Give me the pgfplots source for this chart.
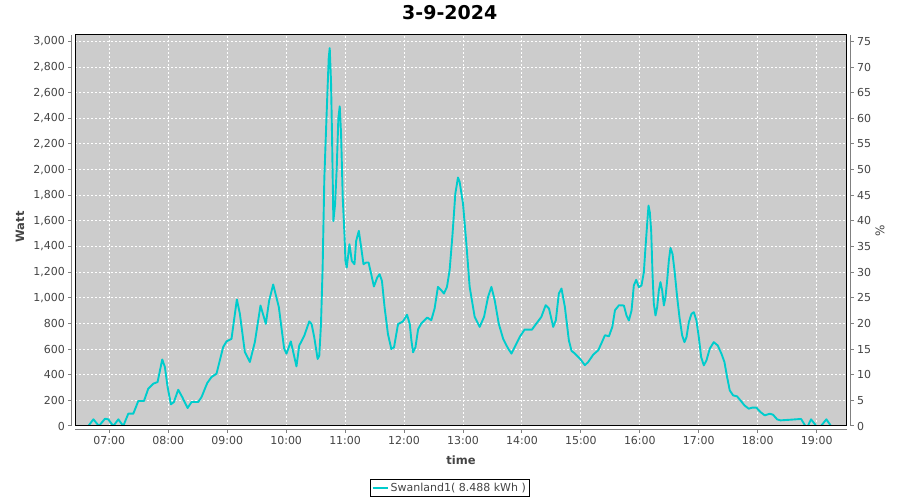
\documentclass[border=0pt]{standalone}
\usepackage{pgfplots}
\pgfplotsset{compat=1.18}
\usepackage{pgfplotstable}
\usepackage{fontspec}
\setmainfont{DejaVu Sans}
\definecolor{plotbg}{RGB}{204,204,204}
\definecolor{series}{RGB}{0,204,204}
\definecolor{ticklab}{RGB}{68,68,68}
\definecolor{axgray}{RGB}{128,128,128}
\pgfplotstableread{
h w
6.644 0
6.730 52
6.825 0
6.927 57
6.983 52
7.068 0
7.153 52
7.237 0
7.322 96
7.407 96
7.492 195
7.588 195
7.661 291
7.746 330
7.819 343
7.898 519
7.943 460
7.989 304
8.045 169
8.096 187
8.169 283
8.237 226
8.328 140
8.395 187
8.508 187
8.565 226
8.661 335
8.734 382
8.819 408
8.932 616
8.989 660
9.073 680
9.164 987
9.215 875
9.299 577
9.384 499
9.469 654
9.565 940
9.655 797
9.712 979
9.780 1104
9.876 927
9.966 603
10.006 564
10.079 660
10.175 465
10.222 627
10.307 704
10.392 816
10.432 795
10.477 691
10.534 523
10.562 549
10.591 795
10.619 1236
10.648 1936
10.676 2300
10.705 2663
10.722 2870
10.739 2948
10.761 2689
10.778 2274
10.801 1599
10.830 1729
10.858 2014
10.886 2403
10.909 2494
10.932 2274
10.960 1781
10.989 1496
11.006 1288
11.028 1236
11.074 1418
11.114 1288
11.159 1262
11.188 1444
11.233 1522
11.273 1392
11.312 1262
11.358 1275
11.398 1275
11.443 1184
11.489 1088
11.545 1158
11.585 1184
11.625 1132
11.670 925
11.727 717
11.784 601
11.830 614
11.898 795
11.983 816
12.051 868
12.097 795
12.125 666
12.153 575
12.193 614
12.239 756
12.292 799
12.394 846
12.462 825
12.518 916
12.575 1085
12.632 1059
12.677 1033
12.728 1085
12.773 1215
12.819 1475
12.870 1813
12.915 1938
12.943 1904
13.000 1735
13.057 1423
13.113 1085
13.198 851
13.283 773
13.357 851
13.425 1007
13.482 1085
13.538 981
13.606 799
13.680 682
13.765 604
13.822 565
13.878 617
13.963 695
14.045 752
14.170 752
14.244 799
14.329 851
14.402 942
14.459 916
14.530 773
14.575 825
14.626 1033
14.671 1072
14.728 929
14.796 668
14.841 586
14.898 565
14.983 526
15.068 474
15.125 500
15.210 557
15.295 591
15.351 648
15.408 708
15.476 700
15.533 773
15.578 903
15.646 942
15.729 940
15.774 862
15.814 823
15.859 901
15.898 1096
15.938 1140
15.983 1083
16.028 1096
16.068 1200
16.096 1395
16.124 1576
16.147 1719
16.169 1667
16.192 1524
16.215 1187
16.237 953
16.266 862
16.294 927
16.322 1057
16.350 1122
16.379 1057
16.407 940
16.435 1005
16.463 1135
16.492 1291
16.520 1389
16.554 1343
16.588 1213
16.633 1005
16.672 849
16.718 706
16.757 654
16.791 693
16.831 810
16.876 875
16.915 888
16.960 823
17.000 693
17.040 538
17.085 473
17.130 512
17.186 603
17.254 654
17.322 628
17.384 564
17.435 499
17.480 382
17.525 278
17.582 239
17.650 231
17.706 200
17.774 161
17.847 135
17.904 143
17.977 143
18.045 109
18.119 83
18.203 96
18.260 88
18.328 52
18.384 44
18.554 49
18.735 55
18.808 0
18.850 0
18.904 52
18.994 0
19.073 0
19.164 52
19.243 0
}\powertable
\begin{document}
\begin{tikzpicture}
\path[use as bounding box] (-75.3pt,-74pt) rectangle (824.7pt,426pt);
\begin{axis}[
  name=main,
  at={(0pt,0pt)}, anchor=south west,
  scale only axis, width=771.4pt, height=391pt,
  xmin=6.4232, xmax=19.509, ymin=0, ymax=3050,
  axis background/.style={fill=plotbg},
  axis x line*=bottom, axis y line*=left,
  axis line style={axgray, line width=1pt, -},
  axis x line shift=4pt, axis y line shift=4pt,
  tick align=outside, major tick length=3pt,
  tick style={axgray, line width=1pt},
  grid=major,
  major grid style={white, line width=1pt, dash pattern=on 2pt off 2pt},
  xtick={7,8,...,19},
  xticklabels={07:00,08:00,09:00,10:00,11:00,12:00,13:00,14:00,15:00,16:00,17:00,18:00,19:00},
  ytick={0,200,...,3000},
  scaled y ticks=false,
  /pgf/number format/assume math mode=true,
  /pgf/number format/1000 sep={,},
  ticklabel style={font=\fontsize{11}{13}\selectfont, text=ticklab},
  title={3-9-2024},
  title style={at={(axis description cs:0.4854,1.041)}, anchor=center, yshift=0pt, font=\bfseries\fontsize{19}{22}\selectfont, text=black},
  xlabel={time},
  xlabel style={at={(axis description cs:0.5,-0.0870)}, anchor=center, font=\bfseries\fontsize{11.5}{14}\selectfont, text=ticklab},
  ylabel={Watt},
  ylabel style={at={(axis description cs:-0.0717,0.5095)}, anchor=center, font=\bfseries\fontsize{11.5}{14}\selectfont, text=ticklab},
  legend style={at={(axis description cs:0.4854,-0.1586)}, anchor=center, draw=black, line width=1pt, fill=white, font=\fontsize{11}{13}\selectfont, text=ticklab, inner sep=1.5pt},
  legend image code/.code={\draw[#1] (0pt,0pt) -- (15pt,0pt);},
]
\addplot[series, line width=1.9pt, line join=round] table[x=h, y=w] {\powertable};
\addlegendentry{Swanland1( 8.488 kWh )}
\end{axis}
\begin{axis}[
  at={(0pt,0pt)}, anchor=south west,
  scale only axis, width=771.4pt, height=391pt,
  xmin=6.4232, xmax=19.509, ymin=0, ymax=76.25,
  axis x line=none, axis y line*=right,
  axis line style={axgray, line width=1pt, -},
  axis y line shift=4pt,
  tick align=outside, major tick length=3pt,
  tick style={axgray, line width=1pt},
  ytick={0,5,...,75},
  /pgf/number format/assume math mode=true,
  ticklabel style={font=\fontsize{11}{13}\selectfont, text=ticklab},
  ylabel={\%},
  ylabel style={at={(axis description cs:1.0432,0.5)}, anchor=center, font=\fontsize{12}{14}\selectfont, text=ticklab},
]
\addplot[draw=none] coordinates {(7,0)};
\end{axis}
\draw[black, line width=1pt] (main.south west) rectangle (main.north east);
\end{tikzpicture}
\end{document}
